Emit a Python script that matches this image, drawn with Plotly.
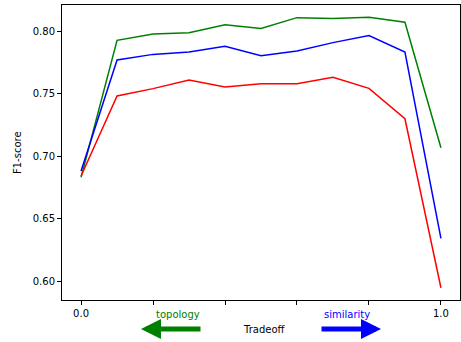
import plotly.graph_objects as go

tradeoff = [0.0, 0.1, 0.2, 0.3, 0.4, 0.5, 0.6, 0.7, 0.8, 0.9, 1.0]
green_vals = [0.683, 0.7925, 0.7976, 0.7987, 0.805, 0.802, 0.8107, 0.810, 0.811, 0.807, 0.7066]
blue_vals = [0.688, 0.7768, 0.7813, 0.7832, 0.7877, 0.7803, 0.784, 0.7907, 0.7963, 0.7832, 0.6341]
red_vals = [0.684, 0.748, 0.7539, 0.7608, 0.7552, 0.7579, 0.7579, 0.763, 0.7541, 0.7298, 0.5946]
x_tickvals = [0.0, 0.2, 0.4, 0.6, 0.8, 1.0]
x_ticktext = ["0.0", "", "", "", "", "1.0"]
y_tickvals = [0.60, 0.65, 0.70, 0.75, 0.80]
y_ticktext = ["0.60", "0.65", "0.70", "0.75", "0.80"]

fig = go.Figure()
for vals, col in [(green_vals, "#008000"), (blue_vals, "#0000ff"), (red_vals, "#ff0000")]:
    fig.add_trace(go.Scatter(x=tradeoff, y=vals, mode="lines",
                             line=dict(color=col, width=1.5), showlegend=False))

font = dict(family="DejaVu Sans", size=10, color="black")
fig.update_layout(
    width=461, height=342,
    margin=dict(l=62, r=1, t=5, b=42, autoexpand=False),
    paper_bgcolor="white", plot_bgcolor="white",
    font=font,
    xaxis=dict(range=[-0.053, 1.053], tickvals=x_tickvals, ticktext=x_ticktext,
               ticks="outside", ticklen=4, tickcolor="black", showgrid=False, automargin=False,
               zeroline=False, showline=True, linecolor="black", linewidth=1, mirror=True),
    yaxis=dict(range=[0.5848, 0.8208], tickvals=y_tickvals, ticktext=y_ticktext,
               ticks="outside", ticklen=4, tickcolor="black", showgrid=False, automargin=False,
               zeroline=False, showline=True, linecolor="black", linewidth=1, mirror=True),
)

ylab = (300 - 329) / 295
ytxt = (300 - 314) / 295
common = dict(xref="paper", yref="paper", xanchor="center", yanchor="middle")
fig.add_annotation(text="F1-score", x=(17 - 62) / 398, y=(300 - 153) / 295,
                   textangle=-90, showarrow=False, font=font, **common)
fig.add_annotation(text="topology", x=(178 - 62) / 398, y=ytxt,
                   showarrow=False, font=dict(family="DejaVu Sans", size=10, color="#008000"), **common)
fig.add_annotation(text="similarity", x=(347 - 62) / 398, y=ytxt,
                   showarrow=False, font=dict(family="DejaVu Sans", size=10, color="#0000ff"), **common)
fig.add_annotation(text="Tradeoff", x=(264 - 62) / 398, y=ylab,
                   showarrow=False, font=font, **common)
fig.add_annotation(text="", x=(141 - 62) / 398, y=ylab,
                   ax=61, ay=0, showarrow=True, arrowhead=2, arrowsize=0.8, arrowwidth=5,
                   arrowcolor="#008000", **common)
fig.add_annotation(text="", x=(381 - 62) / 398, y=ylab,
                   ax=-61, ay=0, showarrow=True, arrowhead=2, arrowsize=0.8, arrowwidth=5,
                   arrowcolor="#0000ff", **common)

fig.write_html("out.html", config={"displayModeBar": False},
               post_script="document.body.style.margin='0';document.body.style.overflow='hidden';")
